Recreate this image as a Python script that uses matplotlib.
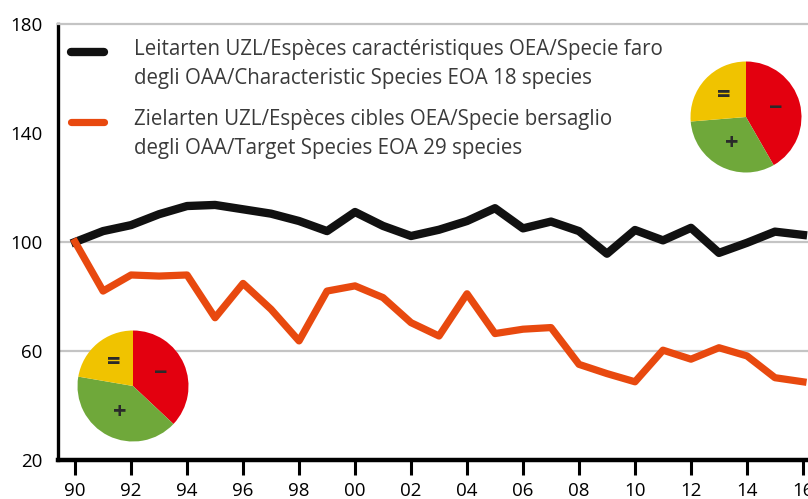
import numpy as np
import matplotlib.pyplot as plt
from matplotlib.legend_handler import HandlerLine2D

plt.rcParams['font.family'] = ['Open Sans', 'DejaVu Sans']

# index values, 1990 = 100
years = list(range(1990, 2017))
characteristic = [100, 104, 106.2, 110.2, 113.2, 113.6, 112, 110.4, 107.7, 104,
                  111, 105.9, 102.2, 104.5, 107.7, 112.4, 105, 107.5, 104, 95.7,
                  104.4, 100.6, 105.2, 96, 99.7, 103.8, 102.6]
target = [100, 82, 87.9, 87.5, 87.9, 72.2, 84.8, 75.3, 63.7, 82,
          83.9, 79.6, 70.4, 65.5, 81, 66.4, 68, 68.6, 55.1, 51.7,
          48.7, 60.3, 57, 61.2, 58.2, 50.2, 48.7]

label_char = "Leitarten UZL/Espèces caractéristiques OEA/Specie faro\ndegli OAA/Characteristic Species EOA 18 species"
label_target = "Zielarten UZL/Espèces cibles OEA/Specie bersaglio\ndegli OAA/Target Species EOA 29 species"

yticks = [20, 60, 100, 140, 180]
grid_levels = [60, 100]
xticks = list(range(1990, 2017, 2))
xticklabels = ["%02d" % (y % 100) for y in xticks]

# pie shares: decreasing (-), increasing (+), stable (=)
pie_signs = ["\u2212", "+", "="]
pie_colors = ["#e3000f", "#6fa83a", "#f0c300"]
pie_char = [41.7, 32.0, 26.3]
pie_target = [37.0, 40.7, 22.3]

black = "#111111"
orange = "#e8490f"
txt = "#3a3a3a"

W, H = 808, 499
fig = plt.figure(figsize=(W / 100, H / 100), dpi=100)
ax = fig.add_axes([58 / W, (H - 460) / H, 1 - 58 / W, 436 / H])

for g in grid_levels:
    ax.axhline(g, color="#c4c4c4", lw=1.6, zorder=1)

ax.plot(years, characteristic, color=black, lw=6.0, zorder=3, label=label_char)
ax.plot(years, target, color=orange, lw=5.2, zorder=3, label=label_target)

ax.set_xlim(1989.39, 2016.18)
ax.set_ylim(20, 180)
ax.set_yticks(yticks)
ax.set_xticks(xticks)
ax.set_xticklabels(xticklabels)
ax.tick_params(axis="y", length=0, pad=11, labelsize=13.5, labelcolor="black")
ax.tick_params(axis="x", length=11, width=2.2, pad=5, labelsize=13.5, labelcolor="black")

ax.spines["right"].set_visible(False)
ax.spines["top"].set_color("#c4c4c4")
ax.spines["top"].set_linewidth(1.6)
ax.spines["left"].set_linewidth(2.4)
ax.spines["bottom"].set_linewidth(3.2)


class FirstLineHandler(HandlerLine2D):
    # put the sample line next to the first text line
    def create_artists(self, legend, orig_handle, xdescent, ydescent,
                       width, height, fontsize, trans):
        arts = super().create_artists(legend, orig_handle, xdescent, ydescent,
                                      width, height, fontsize, trans)
        for a in arts:
            a.set_ydata(np.asarray(a.get_ydata()) + 0.62 * fontsize)
        return arts


leg = ax.legend(loc="upper left", bbox_to_anchor=(0.018, 0.965), frameon=False,
                fontsize=14.8, handlelength=1.6, handletextpad=1.45,
                labelspacing=0.95, borderpad=0, borderaxespad=0,
                handler_map={plt.Line2D: FirstLineHandler()})
for t in leg.get_texts():
    t.set_color(txt)
    t.set_linespacing(1.5)
for h in leg.legend_handles:
    h.set_solid_capstyle("round")


def draw_pie(cx, cy, r, box, values):
    # box = (left, top, right, bottom) in pixels
    l, t, rr, b = box
    pax = fig.add_axes([l / W, (H - b) / H, (rr - l) / W, (b - t) / H])
    pax.set_facecolor("white")
    pax.pie(values, colors=pie_colors, startangle=90, counterclock=False,
            labels=pie_signs, labeldistance=0.55,
            textprops=dict(fontsize=17, fontweight="bold", color="#2a2a2a",
                           ha="center", va="center"),
            wedgeprops=dict(linewidth=0))
    pax.set_xlim(-(cx - l) / r, (rr - cx) / r)
    pax.set_ylim(-(b - cy) / r, (cy - t) / r)
    pax.axis("off")
    pax.patch.set_visible(True)


draw_pie(746, 117, 55.5, (684, 58, 808, 178), pie_char)
draw_pie(133, 386, 55.5, (60, 324, 190, 448), pie_target)

fig.savefig("out.png", dpi=100)
